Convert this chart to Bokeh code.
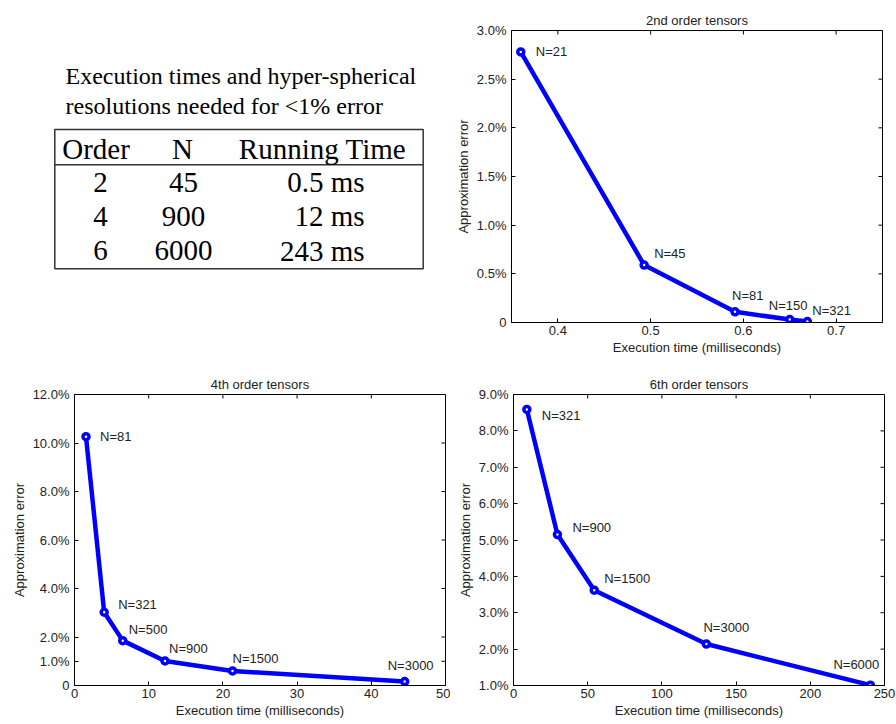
from bokeh.plotting import figure
from bokeh.models import Range1d, FixedTicker, ColumnDataSource
from bokeh.layouts import column, row
from bokeh.core.properties import value
from bokeh.embed import file_html
from bokeh.resources import INLINE

# ---------------- data ----------------
table_title = ["Execution times and hyper-spherical", "resolutions needed for <1% error"]
table_header = ["Order", "N", "Running Time"]
table_order = ["2", "4", "6"]
table_n = ["45", "900", "6000"]
table_time = ["0.5 ms", "12 ms", "243 ms"]

t2_time = [0.36, 0.493, 0.591, 0.65, 0.669]
t2_err = [2.78, 0.59, 0.11, 0.03, 0.01]
t2_n = [21, 45, 81, 150, 321]
t2_xticks = [0.4, 0.5, 0.6, 0.7]
t2_yticks = [0, 0.5, 1.0, 1.5, 2.0, 2.5, 3.0]
t2_ylabels = ["0", "0.5%", "1.0%", "1.5%", "2.0%", "2.5%", "3.0%"]

t4_time = [1.55, 4.0, 6.5, 12.2, 21.3, 44.5]
t4_err = [10.26, 3.02, 1.85, 1.01, 0.6, 0.16]
t4_n = [81, 321, 500, 900, 1500, 3000]
t4_xticks = [0, 10, 20, 30, 40, 50]
t4_yticks = [0, 1, 2, 4, 6, 8, 10, 12]
t4_ylabels = ["0", "1.0%", "2.0%", "4.0%", "6.0%", "8.0%", "10.0%", "12.0%"]

t6_time = [9.0, 29.6, 54.4, 130, 240.5]
t6_err = [8.59, 5.15, 3.62, 2.14, 1.01]
t6_n = [321, 900, 1500, 3000, 6000]
t6_xticks = [0, 50, 100, 150, 200, 250]
t6_yticks = [1, 2, 3, 4, 5, 6, 7, 8, 9]
t6_ylabels = ["1.0%", "2.0%", "3.0%", "4.0%", "5.0%", "6.0%", "7.0%", "8.0%", "9.0%"]

# label offsets (pixels, styling)
t2_dx = [15, 10, -3, -21, 5]
t2_dy = [0, -12, -16, -14, -11]
t4_dx = [14, 14, 6, 4, 0, -17]
t4_dy = [0, -8, -11, -13, -12, -16]
t6_dx = [15, 15, 10, -3, -37]
t6_dy = [6, -7, -12, -17, -21]

SANS = "Liberation Sans"
SERIF = "Liberation Serif"
BLUE = "#0000ff"
TXT = "#222222"
FS = "13px"
FW, FH = 371, 292
TICK = 4


def style_axis(ax, ticks, labels, label_standoff, axis_standoff):
    ax.ticker = FixedTicker(ticks=ticks)
    ax.major_tick_in = TICK
    ax.major_tick_out = 0
    ax.minor_tick_line_color = None
    ax.axis_line_color = "black"
    ax.major_tick_line_color = "black"
    ax.major_label_text_font = SANS
    ax.major_label_text_font_size = FS
    ax.major_label_text_color = TXT
    ax.major_label_standoff = label_standoff
    ax.axis_label_text_font = SANS
    ax.axis_label_text_font_size = FS
    ax.axis_label_text_font_style = "normal"
    ax.axis_label_text_color = TXT
    ax.axis_label_standoff = axis_standoff
    if labels is not None:
        ax.major_label_overrides = {t: l for t, l in zip(ticks, labels)}


def make_chart(title, xs, ys, ns, dx, dy, xr, yr, xticks, yticks, ylabels, size, borders):
    left, right, top, bottom = borders
    p = figure(width=size[0], height=size[1], x_range=Range1d(*xr), y_range=Range1d(*yr),
               output_backend="svg", toolbar_location=None,
               min_border_left=left, min_border_right=right,
               min_border_top=top, min_border_bottom=bottom)
    p.title.text = title
    p.title.align = "center"
    p.title.text_font = SANS
    p.title.text_font_size = FS
    p.title.text_font_style = "normal"
    p.title.text_color = TXT
    p.title.standoff = 6
    p.xgrid.grid_line_color = None
    p.ygrid.grid_line_color = None
    p.outline_line_color = "black"
    style_axis(p.xaxis[0], xticks, None, 3, 2)
    style_axis(p.yaxis[0], yticks, ylabels, 5, 3)
    p.xaxis.axis_label = "Execution time (milliseconds)"
    p.yaxis.axis_label = "Approximation error"

    # mirrored inward ticks on the top and right frame edges
    tx = TICK * (xr[1] - xr[0]) / FW
    ty = TICK * (yr[1] - yr[0]) / FH
    p.segment(x0=xticks, x1=xticks, y0=[yr[1]] * len(xticks), y1=[yr[1] - ty] * len(xticks),
              line_color="black", line_width=1)
    p.segment(x0=[xr[1]] * len(yticks), x1=[xr[1] - tx] * len(yticks), y0=yticks, y1=yticks,
              line_color="black", line_width=1)

    src = ColumnDataSource(dict(x=xs, y=ys, lbl=["N=%d" % n for n in ns], dx=dx, dy=dy))
    p.line("x", "y", source=src, line_width=4.5, line_color=BLUE)
    p.scatter("x", "y", source=src, size=6, line_width=3.5, line_color=BLUE, fill_color="white")
    p.text("x", "y", text="lbl", x_offset="dx", y_offset="dy", source=src,
           text_font=value(SANS), text_font_size=FS, text_color=TXT,
           text_baseline="middle", text_align="left")
    return p


# ---------------- table panel ----------------
# frame spans page y 30..322 (aligned with the neighbouring chart), x 0..450
pt = figure(width=450, height=365, x_range=Range1d(0, 450), y_range=Range1d(322, 30),
            output_backend="svg", toolbar_location=None, title=None,
            min_border_left=0, min_border_right=0, min_border_top=30, min_border_bottom=43,
            x_axis_location=None, y_axis_location=None)
pt.xgrid.grid_line_color = None
pt.ygrid.grid_line_color = None
pt.outline_line_color = None

pt.text(x=[65, 65], y=[75, 105], text=table_title, text_font=value(SERIF), text_font_size="24px",
        text_color="black", text_baseline="middle", text_align="left")
pt.quad(left=54.3, right=422.7, top=129, bottom=268.3, fill_color=None, line_color="#333333", line_width=1.5)
pt.segment(x0=54.3, x1=422.7, y0=164.3, y1=164.3, line_color="#333333", line_width=1.5)
pt.text(x=[61.7], y=[148], text=[table_header[0]], text_font=value(SERIF), text_font_size="29px",
        text_baseline="middle", text_align="left", text_color="black")
pt.text(x=[182, 322], y=[148, 148], text=table_header[1:], text_font=value(SERIF), text_font_size="29px",
        text_baseline="middle", text_align="center", text_color="black")
row_y = [181.7, 215.7, 250]
pt.text(x=[100] * 3, y=row_y, text=table_order, text_font=value(SERIF), text_font_size="29px",
        text_baseline="middle", text_align="center", text_color="black")
pt.text(x=[183] * 3, y=row_y, text=table_n, text_font=value(SERIF), text_font_size="29px",
        text_baseline="middle", text_align="center", text_color="black")
pt.text(x=[364] * 3, y=row_y, text=table_time, text_font=value(SERIF), text_font_size="29px",
        text_baseline="middle", text_align="right", text_color="black")

p2 = make_chart("2nd order tensors", t2_time, t2_err, t2_n, t2_dx, t2_dy, (0.35, 0.75), (0, 3.0),
                t2_xticks, t2_yticks, t2_ylabels, (446, 365), (61, 14, 30, 43))
p4 = make_chart("4th order tensors", t4_time, t4_err, t4_n, t4_dx, t4_dy, (0, 50), (0, 12),
                t4_xticks, t4_yticks, t4_ylabels, (450, 359), (74, 5, 28, 39))
p6 = make_chart("6th order tensors", t6_time, t6_err, t6_n, t6_dx, t6_dy, (0, 250), (1, 9),
                t6_xticks, t6_yticks, t6_ylabels, (446, 359), (63, 12, 29, 38))

layout = column(row(pt, p2), row(p4, p6))
open("out.html", "w").write(file_html(layout, INLINE))
